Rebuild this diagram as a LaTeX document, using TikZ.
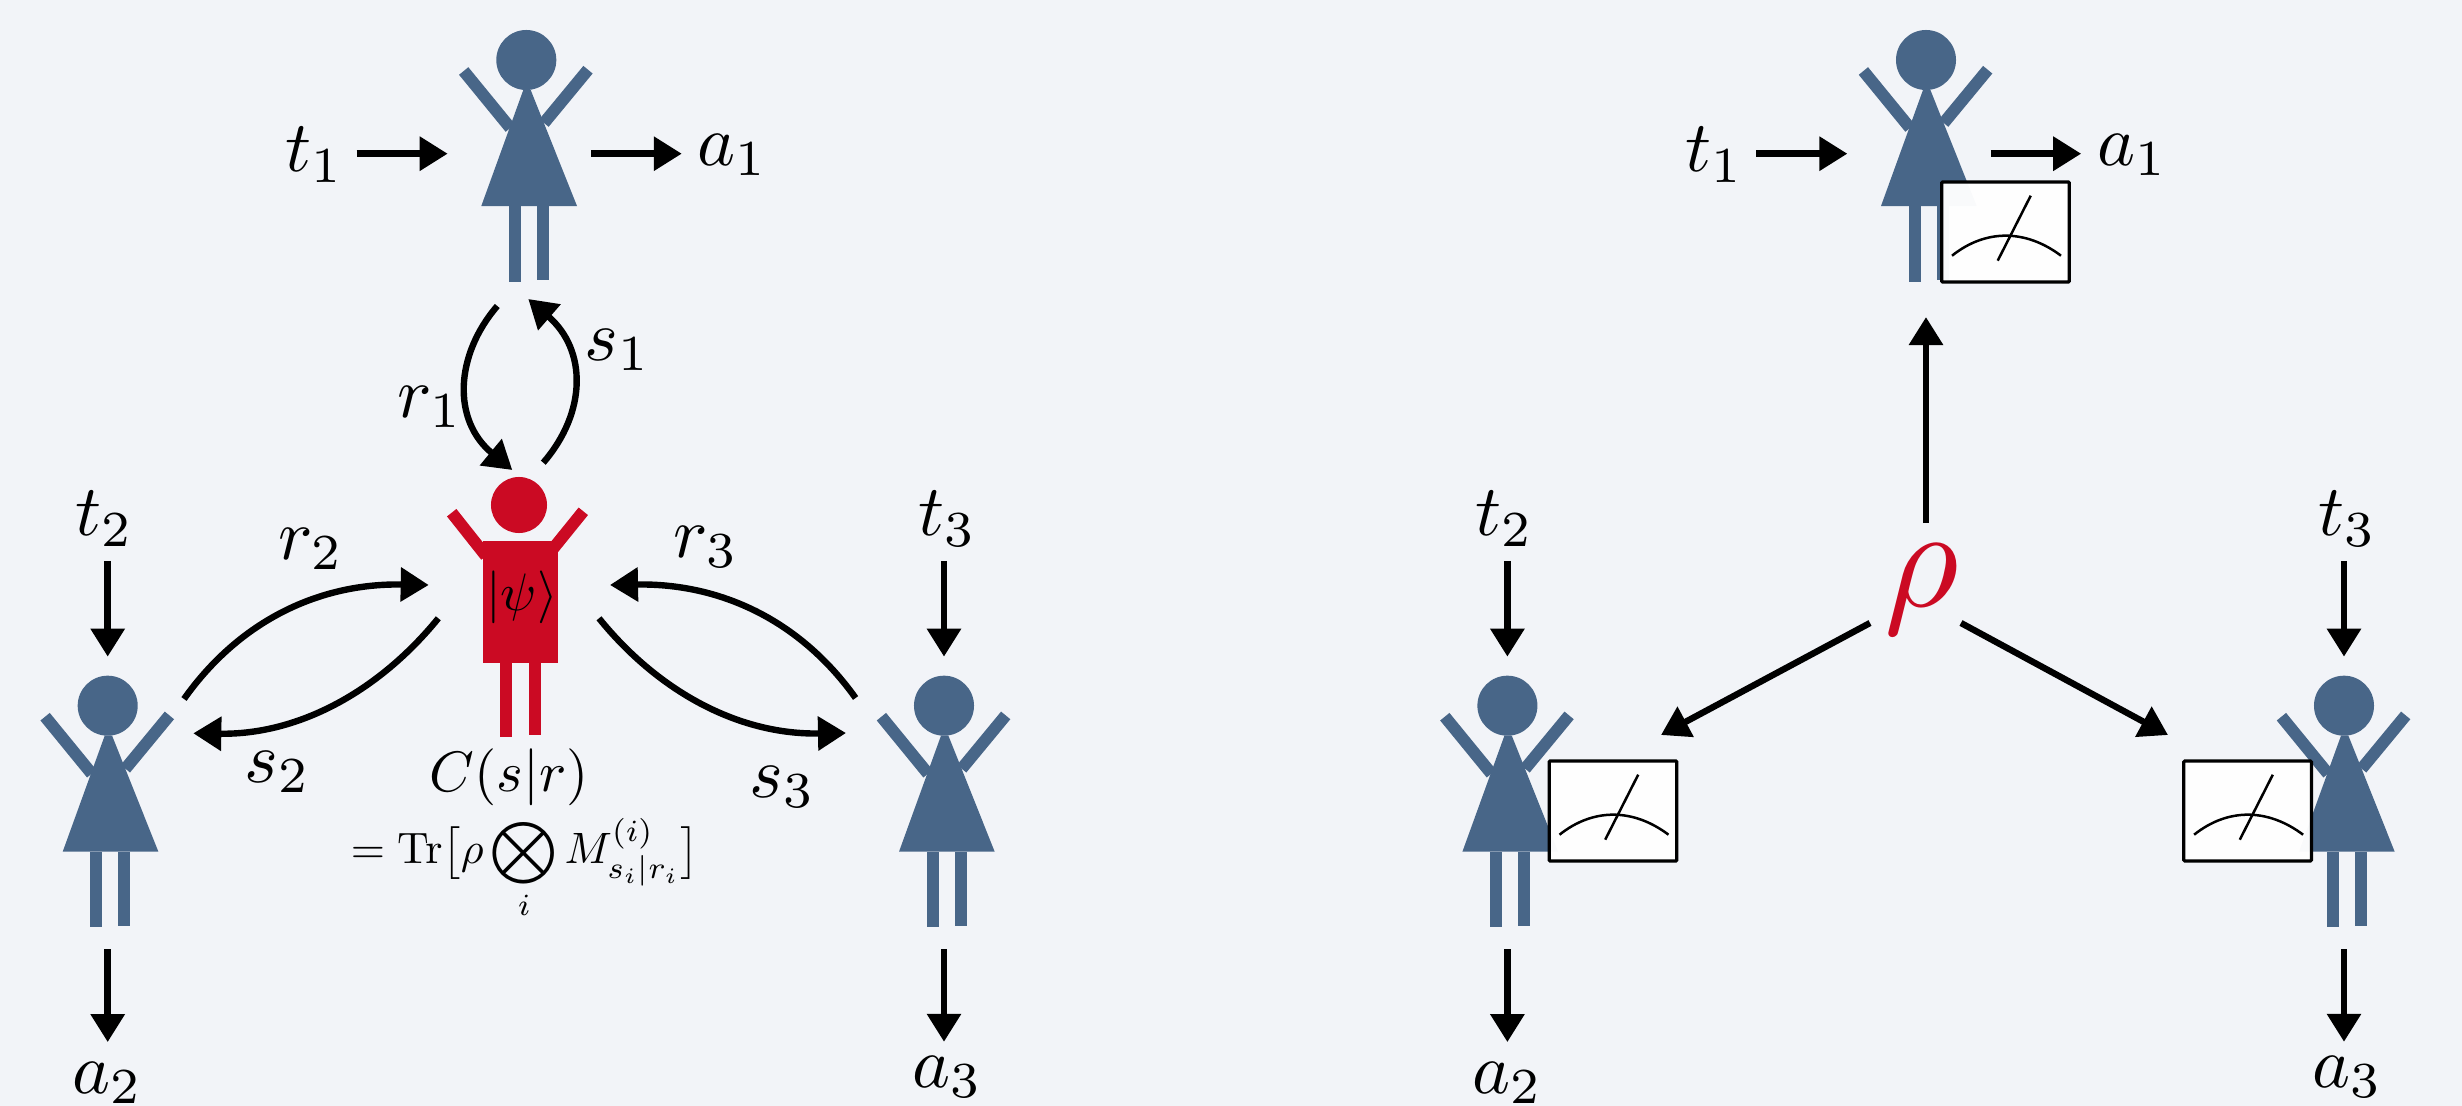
\documentclass[tikz,border=0pt]{standalone}
\usepackage{amsmath}
\usetikzlibrary{arrows.meta,calc}
\definecolor{bgc}{HTML}{F2F4F8}
\definecolor{blu}{HTML}{486688}
\definecolor{rd}{HTML}{CB0A23}
\tikzset{
  arr/.style={line width=0.064cm,-{Triangle[length=0.28cm,width=0.33cm]}},
  lab/.style={scale=2.05,inner sep=0pt,outer sep=0pt},
  hit/.style={inner sep=0pt,outer sep=0pt,minimum width=1.433cm,minimum height=2.854cm},
  limb/.style={line width=0.12cm},
  meterbox/.style={draw=black,line width=0.033cm,fill=white,fill opacity=.97,minimum width=1.275cm,minimum height=1.0cm,inner sep=0pt,outer sep=0pt,rounded corners=0.3pt},
  needle/.style={line width=0.025cm}
}
\newcommand{\figwoman}[3]{%
 \begin{scope}[shift={(#2,#3)}]
  \fill[blu] (0,0) circle (0.3cm);
  \draw[limb,blu] (-62.6,11) -- (-16,68);
  \draw[limb,blu] (61.7,9.7) -- (17.7,63);
  \fill[blu] (-3,30) -- (4.4,30) -- (50.7,146) -- (-45,146) -- cycle;
  \fill[blu] (-17.3,146) rectangle (-5.3,221.7);
  \fill[blu] (10.7,146) rectangle (22.7,220);
  \node[hit] (#1) at (-6.95,93.7) {};
  \coordinate (#1h) at (0,0);
 \end{scope}}
\newcommand{\figmeter}[3]{%
 \node[meterbox] (#1) at (#2,#3) {};
 \begin{scope}[shift={(#1.center)}]
  \draw[needle] (-53.5,23.7) .. controls (-20,-3) and (20,-3) .. (55.5,23.7);
  \draw[needle] (-7.8,28.7) -- (25.2,-36.3);
 \end{scope}}
\begin{document}
\begin{tikzpicture}[x=0.01cm,y=-0.01cm]
\useasboundingbox (0,0) rectangle (2462,1106);
\fill[bgc] (0,0) rectangle (2462,1106);
% left panel figures
\figwoman{p1}{526.3}{60}
\figwoman{p2}{107.7}{705.7}
\figwoman{p3}{944}{705.7}
% red figure
\fill[rd] (519,505) circle (0.28cm);
\draw[limb,rd] (451.7,512.7) -- (486,556);
\draw[limb,rd] (583.3,511.3) -- (552,550);
\fill[rd] (483,541) rectangle (558,662.7);
\fill[rd] (500,662) rectangle (512,736.7);
\fill[rd] (529,662) rectangle (541,735);
\node[scale=1.5,inner sep=0pt] (psi) at (522,597) {$|\psi\rangle$};
% left labels
\node[lab] (t1) at (315,155) {$t_1$};
\node[lab] (a1) at (733,155) {$a_1$};
\node[lab] (t2) at (105,519) {$t_2$};
\node[lab] (a2) at (108,1083) {$a_2$};
\node[lab] (t3) at (948,519) {$t_3$};
\node[lab] (a3) at (948,1077) {$a_3$};
\node[lab] (r1) at (430,407) {$r_1$};
\node[lab] (s1) at (618,350) {$s_1$};
\node[lab] (r2) at (311,549) {$r_2$};
\node[lab] (r3) at (706,547) {$r_3$};
\node[lab] (s2) at (278,772) {$s_2$};
\node[lab] (s3) at (783,787) {$s_3$};
\node[scale=1.62,inner sep=0pt] (cs) at (509,777) {$C(s|r)$};
\node[scale=1.25,inner sep=0pt,anchor=center] (eq) at (525,869) {$\displaystyle =\mathrm{Tr}\big[\rho\bigotimes_i M^{(i)}_{s_i|r_i}\big]$};
% left arrows
\draw[arr,shorten <=0.125cm] (p1.west -| t1.east) -- (p1.west);
\draw[arr,shorten >=0.16cm] (p1.east) -- (p1.east -| a1.west);
\draw[arr,shorten <=0.144cm] (t2.south -| p2h) -- (p2.north -| p2h);
\draw[arr,shorten <=0.07cm,shorten >=0.20cm] (p2.south -| p2h) -- (a2.north -| p2h);
\draw[arr,shorten <=0.144cm] (t3.south -| p3h) -- (p3.north -| p3h);
\draw[arr,shorten <=0.07cm,shorten >=0.143cm] (p3.south -| p3h) -- (a3.north -| p3h);
\coordinate (s1a) at (543.3,462.7); \coordinate (s1b) at (528.3,299);
\coordinate (r1a) at (497.3,306); \coordinate (r1b) at (512.3,470);
\draw[arr] (s1a) .. controls (587,412) and (587,350) .. (s1b);
\draw[arr] (r1a) .. controls (455,355) and (452,420) .. (r1b);
\coordinate (r2a) at (184,699); \coordinate (r2b) at (428.7,585);
\coordinate (s2a) at (438.3,618.3); \coordinate (s2b) at (193.3,733.3);
\coordinate (r3a) at (855.6,698); \coordinate (r3b) at (610,585);
\coordinate (s3a) at (599,618.3); \coordinate (s3b) at (846,733);
\draw[arr] (r2a) .. controls (240,620) and (320,583) .. (r2b);
\draw[arr] (s2a) .. controls (380,690) and (300,735) .. (s2b);
\draw[arr] (r3a) .. controls (800,620) and (720,583) .. (r3b);
\draw[arr] (s3a) .. controls (657,690) and (737,735) .. (s3b);
% right panel
\figwoman{q1}{1926}{60}
\figwoman{q2}{1507.4}{705.7}
\figwoman{q3}{2344}{705.7}
\figmeter{m1}{2005.5}{232}
\figmeter{m2}{1613}{811}
\figmeter{m3}{2247.6}{811}
\node[lab] (rt1) at (1715,155) {$t_1$};
\node[lab] (ra1) at (2133,155) {$a_1$};
\node[lab] (rt2) at (1505,519) {$t_2$};
\node[lab] (ra2) at (1508,1083) {$a_2$};
\node[lab] (rt3) at (2348,519) {$t_3$};
\node[lab] (ra3) at (2348,1077) {$a_3$};
\draw[arr,shorten <=0.122cm] (q1.west -| rt1.east) -- (q1.west);
\draw[arr,shorten >=0.166cm] (q1.east) -- (q1.east -| ra1.west);
\draw[arr,shorten <=0.144cm] (rt2.south -| q2h) -- (q2.north -| q2h);
\draw[arr,shorten <=0.07cm,shorten >=0.20cm] (q2.south -| q2h) -- (ra2.north -| q2h);
\draw[arr,shorten <=0.144cm] (rt3.south -| q3h) -- (q3.north -| q3h);
\draw[arr,shorten <=0.07cm,shorten >=0.143cm] (q3.south -| q3h) -- (ra3.north -| q3h);
\node[scale=4.1,inner sep=0pt,text=rd] (rho) at (1922,589) {$\rho$};
\coordinate (ru) at (1926,523); \coordinate (rl) at (1870,623); \coordinate (rr) at (1961,623);
\coordinate (mlt) at (1661,735); \coordinate (mrt) at (2168,735);
\draw[arr,shorten >=0.206cm] (ru) -- (q1.south -| ru);
\draw[arr] (rl) -- (mlt);
\draw[arr] (rr) -- (mrt);
\end{tikzpicture}
\end{document}
